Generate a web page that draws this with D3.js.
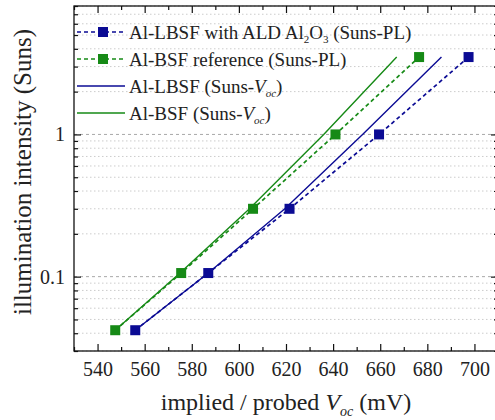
<!DOCTYPE html>
<html>
<head>
<meta charset="utf-8">
<script src="https://cdn.jsdelivr.net/npm/d3@7"></script>
<style>
  html, body { margin: 0; padding: 0; background: #fff; }
  svg { display: block; }
  text { font-family: "Liberation Serif", "Times New Roman", serif; fill: #222; }
</style>
</head>
<body>
<svg id="chart" width="495" height="420"></svg>
<script>
// Illumination levels (Suns) shared by all four series
const sunsLevels = [0.042, 0.106, 0.3, 1.0, 3.5];

// Implied Voc from Suns-PL (mV)
const vocLBSF_PL = [556, 587, 621.5, 659.5, 697.5];
const vocBSF_PL  = [547.5, 575.5, 606, 641, 676.5];

// Probed Voc from Suns-Voc (mV)
const vocLBSF_SV = [556, 587, 619.5, 652.5, 686];
const vocBSF_SV  = [547.5, 575, 604.5, 636, 667];

// Axis ticks
const xMajorTicks = [540, 560, 580, 600, 620, 640, 660, 680, 700];
const xMinorTicks = [530, 550, 570, 590, 610, 630, 650, 670, 690, 710];
const yMajorTicks = [0.1, 1];
const yMinorTicks = [0.03, 0.04, 0.05, 0.06, 0.07, 0.08, 0.09,
                     0.2, 0.3, 0.4, 0.5, 0.6, 0.7, 0.8, 0.9,
                     2, 3, 4, 5, 6, 7, 8];

const BLUE = "#0b0b94";
const GREEN = "#168a16";

const svg = d3.select("#chart");
const L = 74, R = 498, T = 6, B = 351;

const x = d3.scaleLinear().domain([530, 710]).range([L, R]);
const y = d3.scaleLog().domain([0.03, 8]).range([B, T]);

// Horizontal grid
const grid = svg.append("g");
grid.selectAll("line.minor").data(yMinorTicks).join("line")
  .attr("x1", L).attr("x2", R)
  .attr("y1", d => y(d)).attr("y2", d => y(d))
  .attr("stroke", "#cccccc").attr("stroke-width", 1)
  .attr("stroke-dasharray", "1.5,2.5");
grid.selectAll("line.major").data(yMajorTicks).join("line")
  .attr("x1", L).attr("x2", R)
  .attr("y1", d => y(d)).attr("y2", d => y(d))
  .attr("stroke", "#a8a8a8").attr("stroke-width", 1)
  .attr("stroke-dasharray", "3,3");

const series = [
  { v: vocLBSF_PL, color: BLUE,  dashed: true,  marker: true },
  { v: vocBSF_PL,  color: GREEN, dashed: true,  marker: true },
  { v: vocLBSF_SV, color: BLUE,  dashed: false, marker: false },
  { v: vocBSF_SV,  color: GREEN, dashed: false, marker: false }
];

const line = d3.line().x(d => x(d[0])).y(d => y(d[1]));

const plot = svg.append("g");
series.forEach(s => {
  const pts = s.v.map((v, i) => [v, sunsLevels[i]]);
  plot.append("path")
    .attr("d", line(pts))
    .attr("fill", "none")
    .attr("stroke", s.color)
    .attr("stroke-width", s.dashed ? 1.7 : 1.4)
    .attr("stroke-dasharray", s.dashed ? "4,3" : null);
});
series.filter(s => s.marker).forEach(s => {
  plot.selectAll(null).data(s.v.map((v, i) => [v, sunsLevels[i]])).join("rect")
    .attr("x", d => x(d[0]) - 5).attr("y", d => y(d[1]) - 5)
    .attr("width", 10).attr("height", 10)
    .attr("fill", s.color);
});

// Frame
svg.append("rect")
  .attr("x", L).attr("y", T).attr("width", R - L).attr("height", B - T)
  .attr("fill", "none").attr("stroke", "#111").attr("stroke-width", 1.3);

function styleAxis(g) {
  g.select(".domain").remove();
  g.selectAll(".tick line").attr("stroke", "#111").attr("stroke-width", 1.2);
  g.selectAll(".tick text").style("font-size", "20px").attr("fill", "#222");
}

// Bottom axis with labels
svg.append("g").attr("transform", `translate(0,${B})`)
  .call(d3.axisBottom(x).tickValues(xMajorTicks).tickSize(-7).tickPadding(11).tickFormat(d3.format("d")))
  .call(styleAxis);
svg.append("g").attr("transform", `translate(0,${B})`)
  .call(d3.axisBottom(x).tickValues(xMinorTicks).tickSize(-4).tickFormat(""))
  .call(styleAxis);
// Top mirror ticks
svg.append("g").attr("transform", `translate(0,${T})`)
  .call(d3.axisTop(x).tickValues(xMajorTicks).tickSize(-7).tickFormat(""))
  .call(styleAxis);
svg.append("g").attr("transform", `translate(0,${T})`)
  .call(d3.axisTop(x).tickValues(xMinorTicks).tickSize(-4).tickFormat(""))
  .call(styleAxis);
// Left axis with labels
svg.append("g").attr("transform", `translate(${L},0)`)
  .call(d3.axisLeft(y).tickValues(yMajorTicks).tickSize(-7).tickPadding(9).tickFormat(d => String(d)))
  .call(styleAxis);
svg.append("g").attr("transform", `translate(${L},0)`)
  .call(d3.axisLeft(y).tickValues(yMinorTicks).tickSize(-4).tickFormat(""))
  .call(styleAxis);
// Right mirror ticks
svg.append("g").attr("transform", `translate(${R},0)`)
  .call(d3.axisRight(y).tickValues(yMajorTicks).tickSize(-7).tickFormat(""))
  .call(styleAxis);
svg.append("g").attr("transform", `translate(${R},0)`)
  .call(d3.axisRight(y).tickValues(yMinorTicks).tickSize(-4).tickFormat(""))
  .call(styleAxis);

// Rich text helper: parts with optional subscript / italic
function richText(sel, parts, subSize) {
  let shifted = false;
  parts.forEach(p => {
    const t = sel.append("tspan").text(p.t);
    if (p.i) t.style("font-style", "italic");
    if (p.sub) {
      t.style("font-size", subSize + "px");
      if (!shifted) { t.attr("dy", subSize * 0.45); shifted = true; }
    } else if (shifted) {
      t.attr("dy", -subSize * 0.45); shifted = false;
    }
  });
}

// Axis titles
const xTitle = svg.append("text")
  .attr("x", 286).attr("y", 410)
  .attr("text-anchor", "middle")
  .style("font-size", "24px");
richText(xTitle, [
  { t: "implied / probed " }, { t: "V", i: true }, { t: "oc", i: true, sub: true }, { t: " (mV)" }
], 14);

svg.append("text")
  .attr("transform", "translate(31,172) rotate(-90)")
  .attr("text-anchor", "middle")
  .style("font-size", "25px")
  .text("illumination intensity (Suns)");

// Legend
const legendItems = [
  { color: BLUE,  dashed: true,  marker: true,
    parts: [{ t: "Al-LBSF with ALD Al" }, { t: "2", sub: true }, { t: "O" }, { t: "3", sub: true }, { t: " (Suns-PL)" }] },
  { color: GREEN, dashed: true,  marker: true,
    parts: [{ t: "Al-BSF reference (Suns-PL)" }] },
  { color: BLUE,  dashed: false, marker: false,
    parts: [{ t: "Al-LBSF (Suns-" }, { t: "V", i: true }, { t: "oc", i: true, sub: true }, { t: ")" }] },
  { color: GREEN, dashed: false, marker: false,
    parts: [{ t: "Al-BSF (Suns-" }, { t: "V", i: true }, { t: "oc", i: true, sub: true }, { t: ")" }] }
];
const legend = svg.append("g");
legendItems.forEach((it, i) => {
  const ly = 32 + i * 27;
  legend.append("line")
    .attr("x1", 77).attr("x2", 125).attr("y1", ly).attr("y2", ly)
    .attr("stroke", it.color).attr("stroke-width", it.dashed ? 1.7 : 1.4)
    .attr("stroke-dasharray", it.dashed ? "4,3" : null);
  if (it.marker) {
    legend.append("rect").attr("x", 98).attr("y", ly - 5)
      .attr("width", 10).attr("height", 10).attr("fill", it.color);
  }
  const t = legend.append("text").attr("x", 129).attr("y", ly + 6.5).style("font-size", "19px");
  richText(t, it.parts, 11);
});
</script>
</body>
</html>
